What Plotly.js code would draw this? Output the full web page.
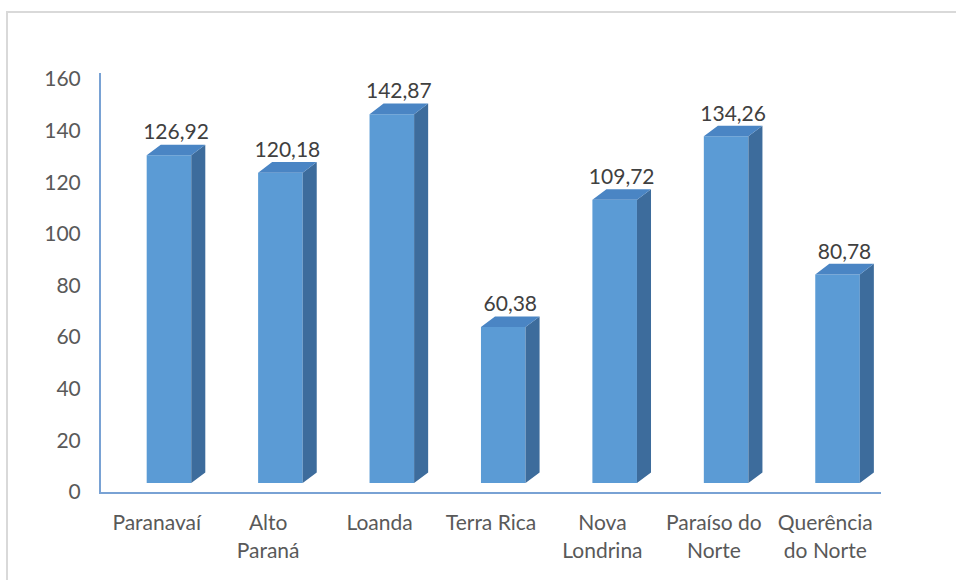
<!DOCTYPE html>
<html>
<head>
<meta charset="utf-8">
<script src="https://cdn.plot.ly/plotly-3.0.1.min.js"></script>
<style>
  html, body { margin: 0; padding: 0; background: #fff; overflow: hidden; }
  #frame { position: absolute; left: 6px; top: 11px; width: 1000px; height: 620px;
           border-left: 2px solid #d9d9d9; border-top: 2px solid #d9d9d9; }
  #chart { position: absolute; left: 0; top: 0; width: 956px; height: 580px; }
</style>
</head>
<body>
<div id="frame"></div>
<div id="chart"></div>
<script>
// ---- data ----
const categories = ["Paranavaí", "Alto<br>Paraná", "Loanda", "Terra Rica", "Nova<br>Londrina", "Paraíso do<br>Norte", "Querência<br>do Norte"];
const values = [126.92, 120.18, 142.87, 60.38, 109.72, 134.26, 80.78];
const valueLabels = ["126,92", "120,18", "142,87", "60,38", "109,72", "134,26", "80,78"];
const yTicks = [0, 20, 40, 60, 80, 100, 120, 140, 160];

// ---- 3D-look geometry (in axis units) ----
const idx = categories.map((_, i) => i);
const barOffset = -0.09, barWidth = 0.40;   // front face relative to category center
const depthX = 0.126, depthY = 4.1;         // receding side / top faces

const frontColor = "#5b9bd5", sideColor = "#3d6c9c", topColor = "#4a85c4";
const axisColor = "#79a2d4";
const fontFam = "Lato, 'Open Sans', sans-serif";

const sideX = [], sideY = [], topX = [], topY = [];
idx.forEach(i => {
  const v = values[i];
  const xl = i + barOffset, xr = xl + barWidth;
  sideX.push(xr, xr + depthX, xr + depthX, xr, xr, null);
  sideY.push(0, depthY, v + depthY, v, 0, null);
  topX.push(xl, xr, xr + depthX, xl + depthX, xl, null);
  topY.push(v, v, v + depthY, v + depthY, v, null);
});

const traces = [
  // invisible trace so the visible value axis is drawn
  { type: "scatter", x: [null], y: [null], xaxis: "x", yaxis: "y", mode: "markers",
    marker: { opacity: 0 }, hoverinfo: "skip" },
  { type: "bar", x: idx, y: values, xaxis: "x", yaxis: "y2",
    offset: barOffset, width: barWidth,
    marker: { color: frontColor, line: { width: 0 } }, hoverinfo: "skip" },
  { type: "scatter", x: sideX, y: sideY, xaxis: "x", yaxis: "y2", mode: "lines",
    fill: "toself", fillcolor: sideColor, line: { width: 0, color: sideColor }, hoverinfo: "skip" },
  { type: "scatter", x: topX, y: topY, xaxis: "x", yaxis: "y2", mode: "lines",
    fill: "toself", fillcolor: topColor, line: { width: 0, color: topColor }, hoverinfo: "skip" },
  { type: "scatter", x: idx.map(i => i + barOffset + barWidth / 2 + depthX / 2),
    y: values.map(v => v + depthY), xaxis: "x", yaxis: "y2",
    mode: "text", text: valueLabels, textposition: "top center",
    textfont: { family: fontFam, size: 21, color: "#404040" },
    hoverinfo: "skip", cliponaxis: false }
];

const layout = {
  width: 956, height: 580,
  paper_bgcolor: "rgba(0,0,0,0)", plot_bgcolor: "rgba(0,0,0,0)",
  margin: { l: 101, r: 75, t: 73, b: 88 },
  showlegend: false,
  font: { family: fontFam, size: 21, color: "#595959" },
  xaxis: {
    range: [-0.5, 6.5], tickmode: "array", tickvals: idx, ticktext: categories,
    showgrid: false, zeroline: false, showline: true, linecolor: axisColor, linewidth: 2,
    ticks: "", ticklabelstandoff: 11, fixedrange: true
  },
  yaxis: {
    range: [0, 162.3], tickmode: "array", tickvals: yTicks, ticktext: yTicks.map(String),
    showgrid: false, zeroline: false, showline: true, linecolor: axisColor, linewidth: 2,
    ticks: "", ticklabelstandoff: 14, fixedrange: true
  },
  yaxis2: {
    range: [-3.49, 158.8], overlaying: "y", visible: false, fixedrange: true
  }
};

Plotly.newPlot("chart", traces, layout, { staticPlot: true, displayModeBar: false });
</script>
</body>
</html>
